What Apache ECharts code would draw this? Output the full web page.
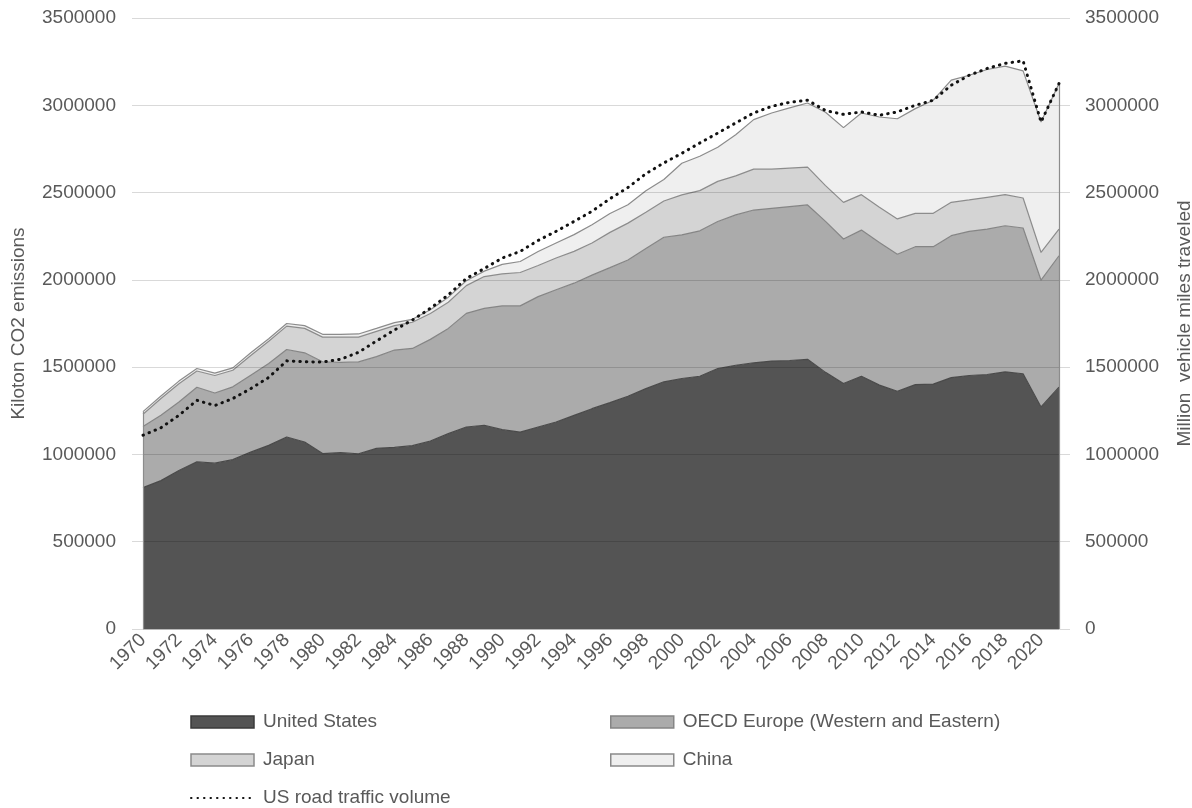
<!DOCTYPE html>
<html><head><meta charset="utf-8">
<script src="https://cdn.jsdelivr.net/npm/echarts@6/dist/echarts.min.js"></script>
<style>html,body{margin:0;padding:0;background:#fff}#c{width:1192px;height:808px}</style>
</head><body><div id="c"></div>
<script>
const years = ['1970','1971','1972','1973','1974','1975','1976','1977','1978','1979',
 '1980','1981','1982','1983','1984','1985','1986','1987','1988','1989',
 '1990','1991','1992','1993','1994','1995','1996','1997','1998','1999',
 '2000','2001','2002','2003','2004','2005','2006','2007','2008','2009',
 '2010','2011','2012','2013','2014','2015','2016','2017','2018','2019',
 '2020','2021'];
const unitedStates = [810000,850000,908000,958000,950000,970000,1013000,1052000,1100000,1071000,
 1005000,1010000,1004000,1035000,1040000,1050000,1077000,1119000,1157000,1167000,
 1142000,1128000,1157000,1186000,1224000,1262000,1297000,1333000,1377000,1416000,
 1435000,1448000,1492000,1511000,1525000,1535000,1538000,1545000,1470000,1406000,
 1448000,1397000,1362000,1400000,1403000,1440000,1452000,1458000,1473000,1462000,
 1272000,1385000];
const oecdEurope = [350000,375000,392000,427000,402000,417000,441000,469000,501000,511000,
 526000,517000,526000,525000,558000,557000,582000,603000,651000,670000,
 709000,723000,747000,757000,757000,765000,773000,781000,803000,828000,
 823000,833000,842000,861000,875000,875000,882000,884000,865000,828000,
 837000,817000,785000,790000,787000,813000,826000,833000,837000,835000,
 726000,753000];
const japan = [70000,95000,105000,93000,100000,95000,113000,127000,134000,140000,
 141000,145000,142000,145000,140000,150000,148000,150000,159000,182000,
 183000,191000,178000,182000,182000,184000,202000,211000,207000,208000,
 229000,230000,230000,224000,234000,224000,220000,217000,205000,210000,
 203000,202000,202000,191000,191000,191000,180000,182000,178000,172000,
 159000,153000];
const china = [15000,15000,15000,14000,14000,14000,15000,15000,15000,16000,
 16000,16000,18000,17000,17000,17000,22000,29000,28000,31000,
 55000,63000,80000,86000,96000,105000,108000,105000,123000,123000,
 181000,197000,196000,235000,284000,322000,345000,367000,420000,428000,
 468000,517000,574000,600000,648000,700000,714000,732000,736000,728000,
 747000,834000];
const usTraffic = [1110000,1153000,1224000,1310000,1280000,1320000,1377000,1441000,1536000,1531000,
 1529000,1545000,1585000,1650000,1713000,1770000,1837000,1914000,2008000,2065000,
 2125000,2163000,2226000,2278000,2335000,2393000,2465000,2529000,2608000,2670000,
 2725000,2784000,2841000,2899000,2956000,2994000,3017000,3029000,2970000,2948000,
 2962000,2943000,2962000,3000000,3029000,3115000,3172000,3211000,3240000,3255000,
 2904000,3125000];

const font = 'Liberation Sans, Arial, sans-serif';
const txt = '#595959';
const fs = 19;
const chart = echarts.init(document.getElementById('c'), null, {renderer:'canvas'});

function area(name, data, fill, border) {
  return {name, type:'line', stack:'total', data, symbol:'none', showSymbol:false,
    lineStyle:{color:border, width:1.2}, areaStyle:{color:fill, opacity:1},
    itemStyle:{color:fill, borderColor:border}, z:2};
}
const legendText = {color:txt, fontSize:fs, fontFamily:font, lineHeight:20, padding:[0,0,0,4]};
const plain = v => String(v);
const first = 0, last = years.length - 1;
const stackTotal = i => unitedStates[i] + oecdEurope[i] + japan[i] + china[i];

chart.setOption({
  animation:false,
  backgroundColor:'#fff',
  grid:{left:143, right:133, top:18, bottom:179, containLabel:false, outerBoundsMode:'none'},
  xAxis:{type:'category', data:years, boundaryGap:false,
    axisLine:{lineStyle:{color:'#d9d9d9'}}, axisTick:{show:false},
    axisLabel:{interval:1, rotate:45, color:txt, fontSize:fs, fontFamily:font, margin:8}},
  yAxis:[
    {type:'value', min:0, max:3500000, interval:500000, z:3,
     name:'Kiloton CO2 emissions', nameLocation:'middle', nameGap:115, nameRotate:90,
     nameTextStyle:{color:txt, fontSize:fs, fontFamily:font},
     axisLine:{show:false}, axisTick:{show:true, length:11, lineStyle:{color:'#d9d9d9'}},
     axisLabel:{margin:27, color:txt, fontSize:fs, fontFamily:font, formatter:plain},
     splitLine:{lineStyle:{color:'rgba(0,0,0,0.15)', width:1}}},
    {type:'value', min:0, max:3500000, interval:500000, position:'right', z:3,
     name:'Million  vehicle miles traveled', nameLocation:'middle', nameGap:116, nameRotate:90,
     nameTextStyle:{color:txt, fontSize:fs, fontFamily:font},
     axisLine:{show:false}, axisTick:{show:true, length:11, lineStyle:{color:'#d9d9d9'}},
     axisLabel:{margin:26, color:txt, fontSize:fs, fontFamily:font, formatter:plain},
     splitLine:{show:false}}
  ],
  legend:[
    {left:190, top:712, orient:'vertical', padding:0, itemGap:18, itemWidth:63, itemHeight:12,
     textStyle:legendText,
     data:[
       {name:'United States', icon:'rect', itemStyle:{color:'#545454', borderColor:'#3a3a3a', borderWidth:1.5}},
       {name:'Japan', icon:'rect', itemStyle:{color:'#d4d4d4', borderColor:'#8a8a8a', borderWidth:1.5}},
       {name:'US road traffic volume', itemStyle:{opacity:0}}
     ]},
    {left:610, top:712, orient:'vertical', padding:0, itemGap:18, itemWidth:63, itemHeight:12,
     textStyle:legendText,
     data:[
       {name:'OECD Europe (Western and Eastern)', icon:'rect', itemStyle:{color:'#ababab', borderColor:'#858585', borderWidth:1.5}},
       {name:'China', icon:'rect', itemStyle:{color:'#efefef', borderColor:'#8a8a8a', borderWidth:1.5}}
     ]}
  ],
  series:[
    area('United States', unitedStates, '#545454', '#4a4a4a'),
    area('OECD Europe (Western and Eastern)', oecdEurope, '#ababab', '#858585'),
    area('Japan', japan, '#d4d4d4', '#8c8c8c'),
    area('China', china, '#efefef', '#8c8c8c'),
    {name:'edges', type:'line', data:[], silent:true, z:3,
     markLine:{silent:true, symbol:['none','none'], label:{show:false},
       lineStyle:{color:'#8c8c8c', width:1.2, type:'solid'},
       data:[
         [{coord:[years[first], 0]}, {coord:[years[first], stackTotal(first)]}],
         [{coord:[years[last], 0]}, {coord:[years[last], stackTotal(last)]}]
       ]}},
    {name:'US road traffic volume', type:'line', yAxisIndex:1, data:usTraffic, symbol:'none', showSymbol:false,
     lineStyle:{color:'#111', width:3, type:[0.5,6], cap:'round'}, itemStyle:{color:'#111'}, z:5}
  ]
});
</script></body></html>
